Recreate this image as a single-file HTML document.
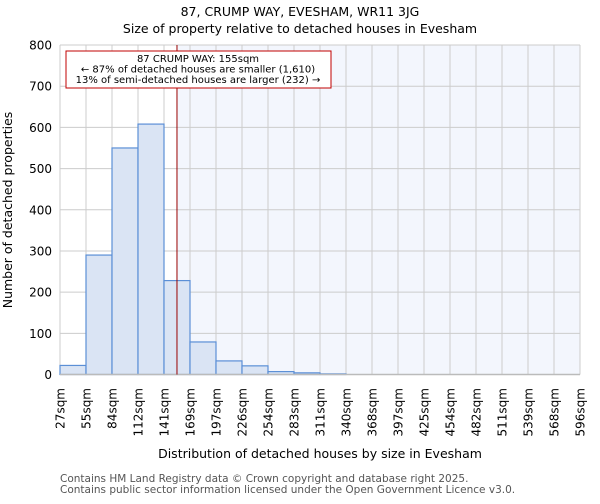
<!DOCTYPE html>
<html><head><meta charset="utf-8"><style>
body{margin:0;background:#fff;font-family:"DejaVu Sans","Liberation Sans",sans-serif}
svg text{font-family:"DejaVu Sans","Liberation Sans",sans-serif}
</style></head><body>
<svg id="chart" width="600" height="500" xmlns="http://www.w3.org/2000/svg">
<text x="300" y="16" text-anchor="middle" font-size="12.5">87, CRUMP WAY, EVESHAM, WR11 3JG</text>
<text x="300" y="33" text-anchor="middle" font-size="12.5">Size of property relative to detached houses in Evesham</text>
<g id="plot"></g>
<text x="320" y="458" text-anchor="middle" font-size="12.5">Distribution of detached houses by size in Evesham</text>
<text transform="translate(12,210) rotate(-90)" text-anchor="middle" font-size="12.5">Number of detached properties</text>
<text x="60" y="482" font-size="10.5" fill="#555">Contains HM Land Registry data © Crown copyright and database right 2025.</text>
<text x="60" y="493" font-size="10.5" fill="#555">Contains public sector information licensed under the Open Government Licence v3.0.</text>
</svg>
<script>
const binLabels=["27sqm","55sqm","84sqm","112sqm","141sqm","169sqm","197sqm","226sqm","254sqm","283sqm","311sqm","340sqm","368sqm","397sqm","425sqm","454sqm","482sqm","511sqm","539sqm","568sqm","596sqm"];
const binEdges=[27,55.45,83.9,112.35,140.8,169.25,197.7,226.15,254.6,283.05,311.5,339.95,368.4,396.85,425.3,453.75,482.2,510.65,539.1,567.55,596];
const counts=[22,290,550,608,228,79,33,21,7,4,1.5,0,0,0,0,0,0,0,0,0];
const yTicks=[0,100,200,300,400,500,600,700,800];
const marker=155;
const ns="http://www.w3.org/2000/svg";
const L=60,R=580,T=45,B=374.5;
const x=v=>L+(v-binEdges[0])/(binEdges[binEdges.length-1]-binEdges[0])*(R-L);
const y=v=>B-v/800*(B-T);
const g=document.getElementById('plot');
function mk(t,a){const e=document.createElementNS(ns,t);for(const k in a)e.setAttribute(k,a[k]);g.appendChild(e);return e;}
let e=mk('rect',{x:x(marker),y:T,width:R-x(marker),height:B-T,fill:'#f3f6fd'});


yTicks.forEach(t=>{const l=mk('line',{x1:L,x2:R,y1:y(t),y2:y(t),stroke:'#cccccc','stroke-width':1});


const tx=mk('text',{x:L-8,y:y(t)+4.5,'text-anchor':'end','font-size':12});tx.textContent=t;

});
binEdges.forEach(b=>{const l=mk('line',{x1:x(b),x2:x(b),y1:T,y2:B,stroke:'#cccccc','stroke-width':1});

});
counts.forEach((c,i)=>{const r=mk('rect',{x:x(binEdges[i]),y:y(c),width:x(binEdges[i+1])-x(binEdges[i]),height:B-y(c),fill:'#dae4f4',stroke:'#5b8fd6','stroke-width':1.2});

});
binLabels.forEach((s,i)=>{const xx=x(binEdges[i]);const tx=mk('text',{transform:`translate(${xx+4.5},388) rotate(-90)`,'text-anchor':'end','font-size':12});tx.textContent=s;

});
e=mk('line',{x1:L,x2:R,y1:B,y2:B,stroke:'#bbbbbb','stroke-width':1.5});


e=mk('line',{x1:x(marker),x2:x(marker),y1:T,y2:B,stroke:'#990000','stroke-width':1});


e=mk('rect',{x:66,y:51,width:265,height:37,fill:'#fff',stroke:'#c00000','stroke-width':1});


["87 CRUMP WAY: 155sqm","← 87% of detached houses are smaller (1,610)","13% of semi-detached houses are larger (232) →"].forEach((s,i)=>{const tx=mk('text',{x:198,y:62+i*10.5,'text-anchor':'middle','font-size':10});tx.textContent=s;

});
</script>
</body></html>
